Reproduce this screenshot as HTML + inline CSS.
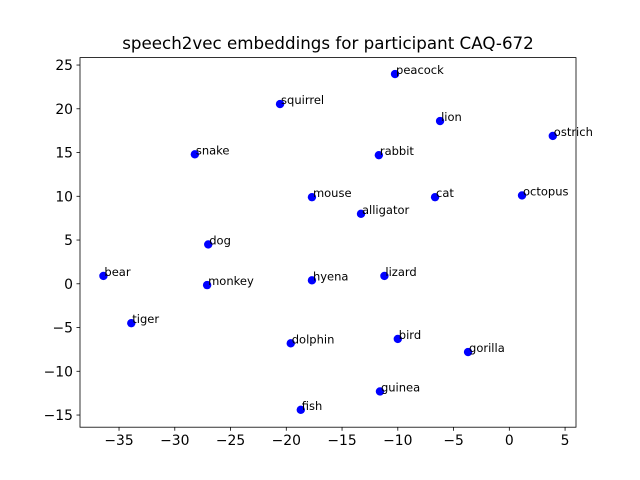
<!DOCTYPE html>
<html><head><meta charset="utf-8"><style>body{margin:0;background:#fff}svg{display:block;font-family:"DejaVu Sans","Liberation Sans",sans-serif}</style></head>
<body>
<svg id="chart" width="640" height="480" viewBox="0 0 640 480" xmlns="http://www.w3.org/2000/svg">
<rect width="640" height="480" fill="#fff"/>
<text x="328" y="49" text-anchor="middle" font-size="16.7">speech2vec embeddings for participant CAQ-672</text>
<g id="marks"></g>
<g id="axes"></g>
</svg>
<script>
const labels=["peacock","squirrel","lion","ostrich","snake","rabbit","mouse","cat","octopus","alligator","dog","bear","monkey","hyena","lizard","tiger","dolphin","bird","gorilla","guinea","fish"];
const xs=[-10.25,-20.56,-6.21,3.9,-28.2,-11.7,-17.7,-6.66,1.14,-13.3,-27.0,-36.4,-27.1,-17.7,-11.2,-33.9,-19.6,-10.0,-3.7,-11.6,-18.7];
const ys=[23.97,20.54,18.6,16.9,14.8,14.7,9.9,9.9,10.1,8.0,4.5,0.9,-0.15,0.4,0.9,-4.5,-6.8,-6.3,-7.8,-12.3,-14.4];
const xTicks=[-35,-30,-25,-20,-15,-10,-5,0,5];
const yTicks=[-15,-10,-5,0,5,10,15,20,25];
const L=80,R=576,T=57.6,B=427.2;
const xmin=-38.5,xmax=5.98,ymin=-16.39,ymax=25.85;
const sx=v=>L+(v-xmin)/(xmax-xmin)*(R-L);
const sy=v=>B-(v-ymin)/(ymax-ymin)*(B-T);
const NS="http://www.w3.org/2000/svg";
const mk=(t,a)=>{const e=document.createElementNS(NS,t);for(const k in a)e.setAttribute(k,a[k]);return e;};
const marks=document.getElementById('marks'),axes=document.getElementById('axes');
labels.forEach((n,i)=>{
 const c=mk('circle',{cx:sx(xs[i]),cy:sy(ys[i]),r:4.2,fill:'#0000ff'});
 
 
 marks.appendChild(c);
 const t=mk('text',{x:sx(xs[i])+1,y:sy(ys[i]),'font-size':11.5});
 
 
 t.textContent=n;marks.appendChild(t);
});
const frame=mk('rect',{x:L,y:T,width:R-L,height:B-T,fill:'none',stroke:'#000','stroke-width':0.8});


axes.appendChild(frame);
xTicks.forEach(v=>{
 const x=sx(v);
 const l=mk('line',{x1:x,x2:x,y1:B,y2:B+3.5,stroke:'#000','stroke-width':0.8});
 
 
 axes.appendChild(l);
 const t=mk('text',{x:x,y:B+18,'font-size':13.9,'text-anchor':'middle'});
 
 
 t.textContent=v<0?'\u2212'+(-v):v;axes.appendChild(t);
});
yTicks.forEach(v=>{
 const y=sy(v);
 const l=mk('line',{x1:L-3.5,x2:L,y1:y,y2:y,stroke:'#000','stroke-width':0.8});
 
 
 axes.appendChild(l);
 const t=mk('text',{x:L-7,y:y+5,'font-size':13.9,'text-anchor':'end'});
 
 
 t.textContent=v<0?'\u2212'+(-v):v;axes.appendChild(t);
});
</script>
</body></html>
